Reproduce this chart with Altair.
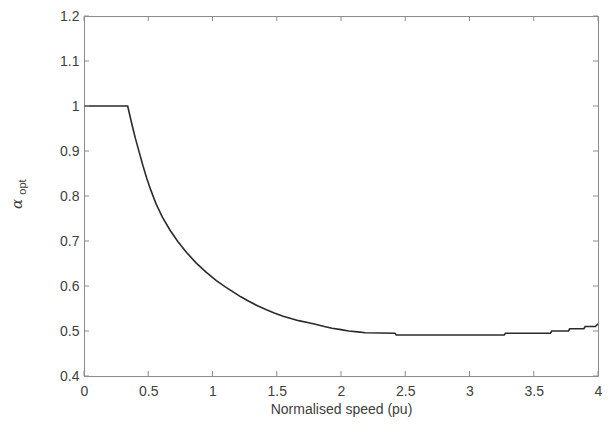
import altair as alt
import pandas as pd

# Data
speed = [0.0, 0.34, 0.36, 0.38, 0.40, 0.43, 0.46, 0.49, 0.52, 0.56, 0.61, 0.67,
         0.73, 0.80, 0.87, 0.95, 1.03, 1.10, 1.16, 1.22, 1.29, 1.35, 1.42, 1.48,
         1.55, 1.61, 1.67, 1.74, 1.80, 1.87, 1.93, 2.00, 2.06, 2.13, 2.19, 2.42,
         2.43, 3.27, 3.28, 3.63, 3.64, 3.77, 3.78, 3.89, 3.90, 3.98, 4.0]
alpha_opt = [1.0, 1.0, 0.975, 0.951, 0.928, 0.897, 0.866, 0.838, 0.813, 0.783, 0.753, 0.724,
             0.699, 0.674, 0.652, 0.631, 0.612, 0.598, 0.587, 0.576, 0.565, 0.556, 0.547, 0.540,
             0.533, 0.528, 0.523, 0.519, 0.515, 0.510, 0.506, 0.503, 0.500, 0.498, 0.496, 0.495,
             0.491, 0.491, 0.495, 0.495, 0.500, 0.500, 0.505, 0.505, 0.510, 0.510, 0.516]

x_ticks = [0, 0.5, 1, 1.5, 2, 2.5, 3, 3.5, 4]
y_ticks = [0.4, 0.5, 0.6, 0.7, 0.8, 0.9, 1.0, 1.1, 1.2]

W, H = 514, 360
AX = "#8c8c8c"
TXT = "#404040"
FONT = "Liberation Sans"

df = pd.DataFrame({"speed": speed, "alpha": alpha_opt, "i": range(len(speed))})
xt = pd.DataFrame({"v": x_ticks})
yt = pd.DataFrame({"v": y_ticks})

xscale = alt.Scale(domain=[0, 4], nice=False, zero=False)
yscale = alt.Scale(domain=[0.4, 1.2], nice=False, zero=False)

common = dict(grid=False, tickSize=0, domain=False, labelFlush=False,
              labelFont=FONT, labelFontSize=14, labelColor=TXT,
              titleFont=FONT, titleFontSize=14, titleColor=TXT, titleFontWeight="normal")

line = alt.Chart(df).mark_line(color="#2b2b2b", strokeWidth=1.6).encode(
    x=alt.X("speed:Q", scale=xscale,
            axis=alt.Axis(values=x_ticks, title="Normalised speed (pu)", labelPadding=8,
                          format="~g", titlePadding=4, **common)),
    y=alt.Y("alpha:Q", scale=yscale,
            axis=alt.Axis(values=y_ticks, title=None, labelPadding=5, format="~g", **common)),
    order="i:Q",
)

tk = 5
xb = alt.Chart(xt).mark_rule(color=AX, strokeWidth=1).encode(
    x=alt.X("v:Q", scale=xscale), y=alt.value(H), y2=alt.value(H - tk))
xtop = alt.Chart(xt).mark_rule(color=AX, strokeWidth=1).encode(
    x=alt.X("v:Q", scale=xscale), y=alt.value(0), y2=alt.value(tk))
yl = alt.Chart(yt).mark_rule(color=AX, strokeWidth=1).encode(
    y=alt.Y("v:Q", scale=yscale), x=alt.value(0), x2=alt.value(tk))
yr = alt.Chart(yt).mark_rule(color=AX, strokeWidth=1).encode(
    y=alt.Y("v:Q", scale=yscale), x=alt.value(W), x2=alt.value(W - tk))

lab = pd.DataFrame({"t": ["α"]})
alpha_txt = alt.Chart(lab).mark_text(
    text="α", angle=270, font="DejaVu Serif", fontStyle="italic", fontSize=15,
    color=TXT, align="center", baseline="middle", clip=False).encode(
    x=alt.value(-67), y=alt.value(188))
opt_txt = alt.Chart(lab).mark_text(
    text="opt", angle=270, font=FONT, fontSize=11, color=TXT,
    align="center", baseline="middle", clip=False).encode(
    x=alt.value(-61), y=alt.value(171))

chart = alt.layer(line, xb, xtop, yl, yr, alpha_txt, opt_txt).properties(
    width=W, height=H,
    background="white",
    autosize=alt.AutoSizeParams(type="none"),
    padding={"left": 76, "top": 8, "right": 4, "bottom": 43},
).configure_view(stroke=AX, strokeWidth=1)

chart.save("out.html", embed_options={"renderer": "svg", "actions": False})
